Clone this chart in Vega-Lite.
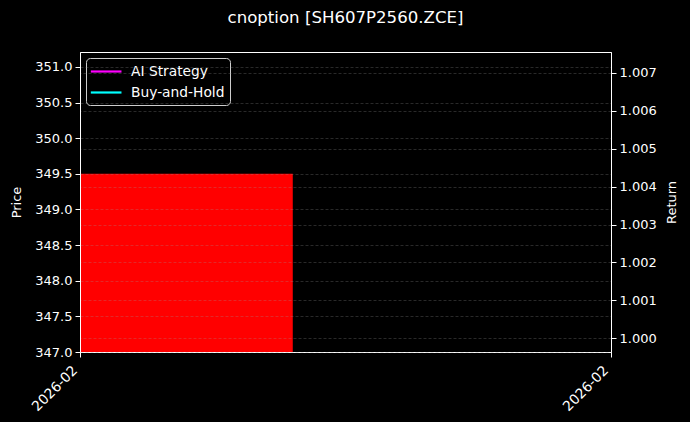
{
  "$schema": "https://vega.github.io/schema/vega-lite/v6.json",
  "width": 531,
  "height": 300,
  "autosize": {"type": "none"},
  "padding": {"left": 80, "top": 52, "right": 79, "bottom": 70},
  "background": "black",
  "title": {"text": "cnoption [SH607P2560.ZCE]", "color": "white", "fontSize": 16.6, "font": "DejaVu Sans", "fontWeight": "normal", "offset": 25, "anchor": "middle"},
  "config": {
    "font": "DejaVu Sans",
    "view": {"stroke": "white", "strokeWidth": 1},
    "axis": {
      "labelColor": "white", "labelFontSize": 13, "labelFont": "DejaVu Sans",
      "titleColor": "white", "titleFontSize": 13, "titleFont": "DejaVu Sans", "titleFontWeight": "normal",
      "domainColor": "white", "tickColor": "white", "tickSize": 5, "labelPadding": 3,
      "gridColor": "#999999", "gridOpacity": 0.45, "gridWidth": 0.6, "gridDash": [3, 2]
    }
  },
  "datasets": {
    "bars": [
      {"start": "2026-02-10T00:00:00", "end": "2026-02-10T09:37:00", "high": 349.5, "low": 347.0}
    ],
    "lines": [
      {"date": "2026-02-10T00:00:00", "series": "AI Strategy", "ret": 1.0},
      {"date": "2026-02-10T00:00:00", "series": "Buy-and-Hold", "ret": 1.0}
    ]
  },
  "layer": [
    {
      "data": {"name": "bars"},
      "mark": {"type": "bar", "color": "red"},
      "encoding": {
        "x": {
          "field": "start", "type": "temporal",
          "scale": {"domain": [{"year": 2026, "month": 2, "date": 10}, {"year": 2026, "month": 2, "date": 11}]},
          "axis": {"title": null, "values": [{"year": 2026, "month": 2, "date": 10}, {"year": 2026, "month": 2, "date": 11}], "format": "%Y-%m", "labelAngle": -45, "labelAlign": "right", "labelBaseline": "top", "grid": false, "labelPadding": 6, "labelOffset": -10, "labelFontSize": 13.8}
        },
        "x2": {"field": "end"},
        "y": {
          "field": "high", "type": "quantitative",
          "scale": {"domain": [347.0, 351.21], "zero": false, "nice": false},
          "axis": {"title": "Price", "titlePadding": 11, "values": [347.0, 347.5, 348.0, 348.5, 349.0, 349.5, 350.0, 350.5, 351.0], "format": ".1f", "grid": true, "zindex": 1}
        },
        "y2": {"field": "low"}
      }
    },
    {
      "data": {"name": "lines"},
      "mark": {"type": "line", "strokeWidth": 2.2},
      "encoding": {
        "x": {"field": "date", "type": "temporal"},
        "y": {
          "field": "ret", "type": "quantitative",
          "scale": {"domain": [0.99964, 1.00755], "zero": false, "nice": false},
          "axis": {"orient": "right", "title": "Return", "titleAngle": 270, "titlePadding": 22, "values": [1.0, 1.001, 1.002, 1.003, 1.004, 1.005, 1.006, 1.007], "format": ".3f", "grid": true, "zindex": 1}
        },
        "color": {
          "field": "series", "type": "nominal",
          "scale": {"domain": ["AI Strategy", "Buy-and-Hold"], "range": ["magenta", "cyan"]},
          "legend": {
            "title": null, "orient": "top-left", "offset": 6,
            "fillColor": "black", "strokeColor": "#cccccc", "cornerRadius": 4, "padding": 5,
            "symbolType": "M-1.24,0H3.14", "symbolSize": 196, "symbolStrokeWidth": 2.2,
            "labelColor": "white", "labelFontSize": 13.8, "labelFont": "DejaVu Sans", "rowPadding": 5, "labelOffset": 23
          }
        }
      }
    }
  ],
  "resolve": {"scale": {"y": "independent"}}
}
